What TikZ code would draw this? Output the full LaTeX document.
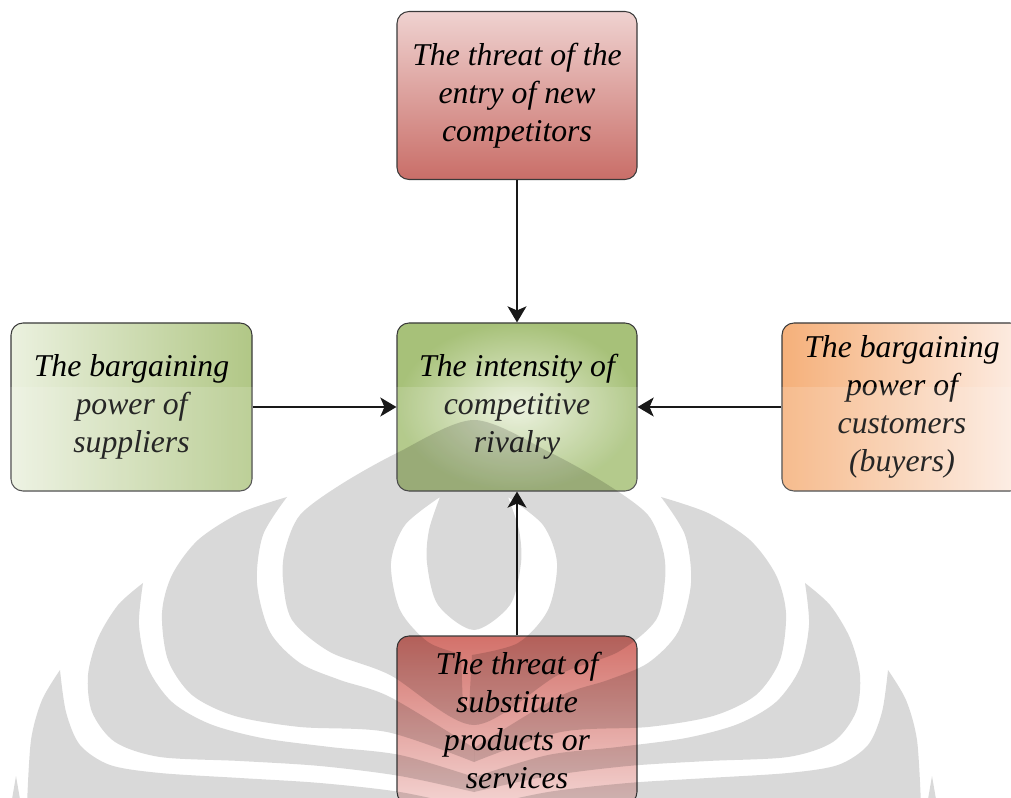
\documentclass[tikz,border=0pt]{standalone}
\usepackage{fontspec}
\setmainfont{Liberation Serif}
\usetikzlibrary{arrows.meta}
\definecolor{entryTop}{HTML}{EFD2D0}
\definecolor{entryBot}{HTML}{C96E68}
\definecolor{suppL}{HTML}{EBF1DF}
\definecolor{suppR}{HTML}{B1C786}
\definecolor{rivalIn}{HTML}{E9F0DA}
\definecolor{rivalOut}{HTML}{A7C179}
\definecolor{custL}{HTML}{F5B07A}
\definecolor{custR}{HTML}{FDEDE4}
\definecolor{substTop}{HTML}{D3716A}
\definecolor{substBot}{HTML}{F3D3D1}
\definecolor{edge}{HTML}{3A3A3A}
\newcommand\wmhalf{%
  % lobe 2
  \fill[wm] plot[smooth] coordinates {(287,497) (240,513) (198,540) (172,575) (162,613) (168,660) (192,695) (235,716) (300,727) (387,732) (474,762)}
    -- plot[smooth] coordinates {(474,748) (390,697) (340,680) (300,663) (270,632) (257,583) (263,535) (287,497)} -- cycle;
  % lobe 3
  \fill[wm] plot[smooth] coordinates {(143,583) (118,605) (98,638) (88,675) (92,712) (115,742) (160,757) (240,761) (320,766) (400,776) (474,792)}
    -- plot[smooth] coordinates {(474,777) (400,755) (330,747) (262,738) (210,724) (172,702) (148,668) (139,625) (143,583)} -- cycle;
  % lobe 4
  \fill[wm] plot[smooth] coordinates {(60,670) (42,700) (31,740) (27,805)} -- (474,810)
    -- plot[smooth] coordinates {(474,808) (400,792) (320,783) (240,778) (160,773) (110,765) (80,745) (66,712) (60,670)} -- cycle;
  % lobe 5
  \fill[wm] (16,776) -- (11,805) -- (21,805) -- cycle;
}
\begin{document}
\begin{tikzpicture}[x=0.75pt,y=-0.75pt,
  box/.style={draw=edge, line width=0.8pt, rounded corners=9pt,
    minimum width=180pt, minimum height=126pt, align=center, inner sep=0pt,
    font=\fontsize{23.8}{28.5}\selectfont\itshape, text=black},
  arr/.style={draw=black!90, line width=2.2pt,
    -{Stealth[length=12pt,width=14pt,inset=3pt]}},
  wm/.style={fill=black, fill opacity=0.15},
  gloss/.style={fill=white, fill opacity=0.15}]
\useasboundingbox (0,0) rectangle (1011,798);
\clip (0,0) rectangle (1011,798);

% boxes
\node[box, top color=entryTop, bottom color=entryBot] (entry) at (517,95.5)
  {The threat of the\\entry of new\\competitors};
\node[box, minimum width=180.75pt, left color=suppL, right color=suppR] (supp) at (131.5,407)
  {The bargaining\\power of\\suppliers};
\node[box, inner color=rivalIn, outer color=rivalOut] (rival) at (517,407)
  {The intensity of\\competitive\\rivalry};
\node[box, left color=custL, right color=custR] (cust) at (902,407)
  {The bargaining\\power of\\customers\\(buyers)};
\node[box, top color=substTop, bottom color=substBot] (subst) at (517,720)
  {The threat of\\substitute\\products or\\services};

% glossy lower halves
\begin{scope}
  \clip[rounded corners=9pt] (supp.north west) rectangle (supp.south east);
  \fill[gloss] (0,387) rectangle (1011,500);
\end{scope}
\begin{scope}
  \clip[rounded corners=9pt] (rival.north west) rectangle (rival.south east);
  \fill[gloss] (0,387) rectangle (1011,500);
\end{scope}
\begin{scope}
  \clip[rounded corners=9pt] (cust.north west) rectangle (cust.south east);
  \fill[gloss] (0,387) rectangle (1011,500);
\end{scope}

% connectors
\draw[arr] (entry) -- (rival);
\draw[arr] (supp) -- (rival);
\draw[arr] (cust) -- (rival);
\draw[arr] (subst) -- (rival);

% watermark
\fill[wm, even odd rule]
  plot[smooth cycle] coordinates {(474,420) (551,453) (608,485) (648,515) (663,550) (665,580) (656,620) (618,652) (558,675) (474,725) (390,675) (330,652) (292,620) (283,580) (285,550) (300,515) (340,485) (397,453)}
  plot[smooth] coordinates {(440,497) (405,525) (391,563) (400,610) (428,642) (461,654)}
  -- (463,708) -- (469,708)
  -- plot[smooth] coordinates {(472,655) (518,643) (548,610) (557,563) (543,525) (508,497)}
  -- plot[smooth] coordinates {(508,497) (519,530) (521,563) (510,605) (474,630) (438,605) (427,563) (429,530) (440,497)} -- cycle;
\wmhalf
\begin{scope}[shift={(948,0)}, xscale=-1]
  \wmhalf
\end{scope}
\end{tikzpicture}
\end{document}
